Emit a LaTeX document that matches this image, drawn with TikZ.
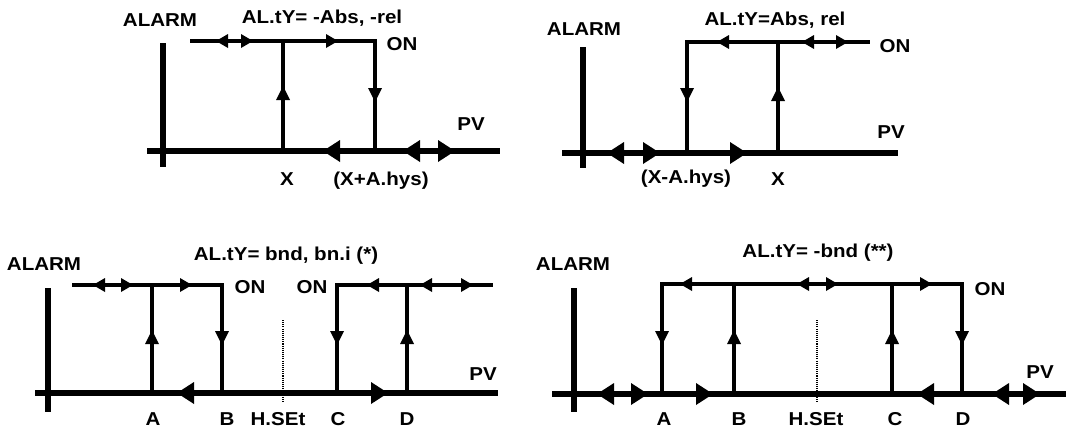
\documentclass[tikz,border=0pt]{standalone}
\usepackage{fontspec}
\setmainfont[FakeStretch=1.1]{Liberation Sans}
\begin{document}
\begin{tikzpicture}[x=0.75pt,y=-0.75pt,
  lbl/.style={font=\fontsize{14}{16}\selectfont\bfseries, inner sep=0pt, anchor=base},
  axisline/.style={line width=5.2pt},
  alarmline/.style={line width=4.2pt},
  sigline/.style={line width=2.4pt},
  dotline/.style={line width=0.8pt, dash pattern=on 0.8pt off 0.8pt},
  pics/tL/.style={code={\fill (0,0)--(12,-7)--(12,7)--cycle;}},
  pics/tR/.style={code={\fill (0,0)--(-12,-7)--(-12,7)--cycle;}},
  pics/tU/.style={code={\fill (0,0)--(-7,14)--(7,14)--cycle;}},
  pics/tD/.style={code={\fill (0,0)--(-7,-14)--(7,-14)--cycle;}},
  pics/TL/.style={code={\fill (0,0)--(17,-11)--(17,11)--cycle;}},
  pics/TR/.style={code={\fill (0,0)--(-17,-11)--(-17,11)--cycle;}}
]
\useasboundingbox (0,0) rectangle (1066,440);

% ---------- Panel 1 ----------
\node[lbl] (al1) at (160,26) {ALARM};
\node[lbl] (ti1) at (322,23) {AL.tY= -Abs, -rel};
\node[lbl] (on1) at (402,50) {ON};
\node[lbl] (pv1) at (471,130) {PV};
\node[lbl] (x1) at (287,185) {X};
\node[lbl] (xh1) at (381,185) {(X+A.hys)};
\draw[alarmline] (163,43) -- (163,167);
\draw[axisline] (147,151) -- (500,151);
\draw[sigline] (190,41) -- (375,41) -- (375,151);
\draw[sigline] (283,41) -- (283,151);
\pic at (216,41) {tL}; \pic at (253,41) {tR}; \pic at (338,41) {tR};
\pic at (283,86) {tU}; \pic at (375,102) {tD};
\pic at (323,151) {TL}; \pic at (403,151) {TL}; \pic at (455,151) {TR};

% ---------- Panel 2 ----------
\node[lbl] (al2) at (584,35) {ALARM};
\node[lbl] (ti2) at (775,25) {AL.tY=Abs, rel};
\node[lbl] (on2) at (895,52) {ON};
\node[lbl] (pv2) at (891,138) {PV};
\node[lbl] (xh2) at (686,183) {(X-A.hys)};
\node[lbl] (x2) at (778,185) {X};
\draw[alarmline] (583,47) -- (583,168);
\draw[axisline] (562,153) -- (898,153);
\draw[sigline] (687,153) -- (687,42) -- (870,42);
\draw[sigline] (778,42) -- (778,153);
\pic at (717,42) {tL}; \pic at (802,42) {tL}; \pic at (848,42) {tR};
\pic at (687,102) {tD}; \pic at (778,87) {tU};
\pic at (607,153) {TL}; \pic at (660,153) {TR}; \pic at (747,153) {TR};

% ---------- Panel 3 ----------
\node[lbl] (ti3) at (286,260) {AL.tY= bnd, bn.i (*)};
\node[lbl] (al3) at (44,270) {ALARM};
\node[lbl] (on3a) at (250,293) {ON};
\node[lbl] (on3b) at (312,293) {ON};
\node[lbl] (pv3) at (483,380) {PV};
\node[lbl] (a3) at (153,425) {A};
\node[lbl] (b3) at (227,425) {B};
\node[lbl] (h3) at (278,425) {H.SEt};
\node[lbl] (c3) at (338,425) {C};
\node[lbl] (d3) at (407,425) {D};
\draw[alarmline] (48,288) -- (48,412);
\draw[axisline] (35,393) -- (498,393);
\draw[sigline] (72,285) -- (222,285) -- (222,393);
\draw[sigline] (152,285) -- (152,393);
\draw[sigline] (337,393) -- (337,285) -- (493,285);
\draw[sigline] (407,285) -- (407,393);
\draw[dotline] (283,320) -- (283,403);
\pic at (93,285) {tL}; \pic at (133,285) {tR}; \pic at (192,285) {tR};
\pic at (152,330) {tU}; \pic at (222,345) {tD};
\pic at (367,285) {tL}; \pic at (420,285) {tL}; \pic at (473,285) {tR};
\pic at (337,345) {tD}; \pic at (407,330) {tU};
\pic at (177,393) {TL}; \pic at (388,393) {TR};

% ---------- Panel 4 ----------
\node[lbl] (ti4) at (818,257) {AL.tY= -bnd (**)};
\node[lbl] (al4) at (573,270) {ALARM};
\node[lbl] (on4) at (990,295) {ON};
\node[lbl] (pv4) at (1040,378) {PV};
\node[lbl] (a4) at (664,425) {A};
\node[lbl] (b4) at (739,425) {B};
\node[lbl] (h4) at (816,425) {H.SEt};
\node[lbl] (c4) at (895,425) {C};
\node[lbl] (d4) at (963,425) {D};
\draw[alarmline] (574,288) -- (574,412);
\draw[axisline] (552,394) -- (1066,394);
\draw[sigline] (662,394) -- (662,284) -- (962,284) -- (962,394);
\draw[sigline] (734,284) -- (734,394);
\draw[sigline] (892,284) -- (892,394);
\draw[dotline] (817,320) -- (817,403);
\pic at (680,284) {tL}; \pic at (797,284) {tL}; \pic at (838,284) {tR}; \pic at (932,284) {tR};
\pic at (662,345) {tD}; \pic at (734,330) {tU}; \pic at (892,330) {tU}; \pic at (962,345) {tD};
\pic at (597,394) {TL}; \pic at (648,394) {TR}; \pic at (713,394) {TR};
\pic at (917,394) {TL}; \pic at (992,394) {TL}; \pic at (1040,394) {TR};
\end{tikzpicture}
\end{document}
